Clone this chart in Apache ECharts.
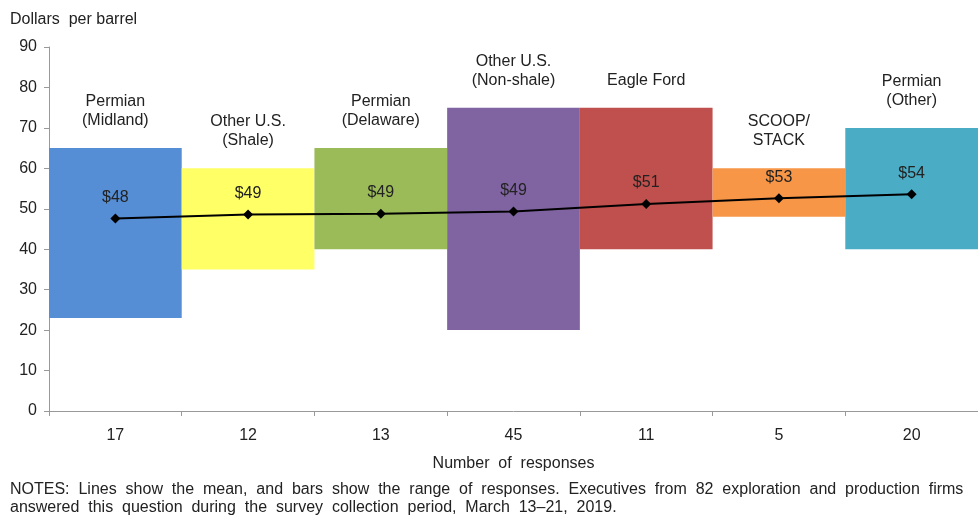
<!DOCTYPE html>
<html>
<head>
<meta charset="utf-8">
<script src="https://cdn.jsdelivr.net/npm/echarts@6/dist/echarts.min.js"></script>
<style>
  html, body { margin: 0; padding: 0; background: #fff; }
  #chart { width: 978px; height: 518px; }
</style>
</head>
<body>
<div id="chart"></div>
<script>
// 区域名称 / 回答数
var Regions = ['Permian\n(Midland)', 'Other U.S.\n(Shale)', 'Permian\n(Delaware)', 'Other U.S.\n(Non-shale)', 'Eagle Ford', 'SCOOP/\nSTACK', 'Permian\n(Other)'];
var Responses = ['17', '12', '13', '45', '11', '5', '20'];
// 区间（最低 / 最高）与均值
var LowData = [23, 35, 40, 20, 40, 48, 40];
var HighData = [65, 60, 65, 75, 75, 60, 70];
var MeanData = [47.6, 48.6, 48.8, 49.3, 51.2, 52.6, 53.6];
var MeanLabels = ['$48', '$49', '$49', '$49', '$51', '$53', '$54'];
var BarColors = ['#558ed5', '#ffff66', '#9bbb59', '#8064a2', '#c0504d', '#f79646', '#4bacc6'];

var FONT = '"Liberation Sans", Arial, sans-serif';

var rangeData = [];
for (var i = 0; i < HighData.length; i++) {
  rangeData.push({ value: HighData[i] - LowData[i], itemStyle: { color: BarColors[i] } });
}

var myChart = echarts.init(document.getElementById('chart'));
myChart.setOption({
  animation: false,
  textStyle: { fontFamily: FONT },
  title: {
    text: 'Dollars  per barrel',
    left: 5,
    top: 7,
    textStyle: { fontFamily: FONT, fontSize: 16, fontWeight: 'normal', color: '#222' }
  },
  grid: { left: 49, right: 0, top: 47, bottom: 107 },
  xAxis: {
    type: 'category',
    data: Responses,
    boundaryGap: true,
    axisLine: { lineStyle: { color: '#999' } },
    axisTick: { show: true, length: 5, lineStyle: { color: '#999' } },
    axisLabel: { color: '#222', fontSize: 16, margin: 17, fontFamily: FONT },
    name: 'Number  of  responses',
    nameLocation: 'middle',
    nameGap: 45,
    nameTextStyle: { color: '#222', fontSize: 16, fontFamily: FONT }
  },
  yAxis: {
    type: 'value',
    min: 0,
    max: 90,
    interval: 10,
    splitLine: { show: false },
    axisLine: { show: true, lineStyle: { color: '#999' } },
    axisTick: { show: true, length: 5, lineStyle: { color: '#999' } },
    axisLabel: { color: '#222', fontSize: 16, margin: 12, fontFamily: FONT }
  },
  series: [
    {
      type: 'bar',
      stack: 'range',
      barWidth: '100%',
      silent: true,
      itemStyle: { color: 'transparent' },
      data: LowData
    },
    {
      type: 'bar',
      stack: 'range',
      barWidth: '100%',
      data: rangeData,
      label: {
        show: true,
        position: 'top',
        distance: 18,
        color: '#222',
        fontSize: 16,
        lineHeight: 19,
        fontFamily: FONT,
        formatter: function (params) {
          return Regions[params.dataIndex];
        }
      }
    },
    {
      type: 'line',
      data: MeanData,
      symbol: 'diamond',
      symbolSize: 10,
      z: 5,
      lineStyle: { color: '#000', width: 2 },
      itemStyle: { color: '#000' },
      label: {
        show: true,
        position: 'top',
        distance: 8,
        color: '#222',
        fontSize: 16,
        fontFamily: FONT,
        formatter: function (params) {
          return MeanLabels[params.dataIndex];
        }
      }
    }
  ],
  graphic: [
    {
      type: 'text',
      left: 10,
      top: 481,
      style: {
        text: 'NOTES:  Lines  show  the  mean,  and  bars  show  the  range  of  responses.  Executives  from  82  exploration  and  production  firms\nanswered  this  question  during  the  survey  collection  period,  March  13–21,  2019.',
        font: '16px ' + FONT,
        fill: '#222',
        lineHeight: 18
      }
    }
  ]
});
</script>
</body>
</html>
